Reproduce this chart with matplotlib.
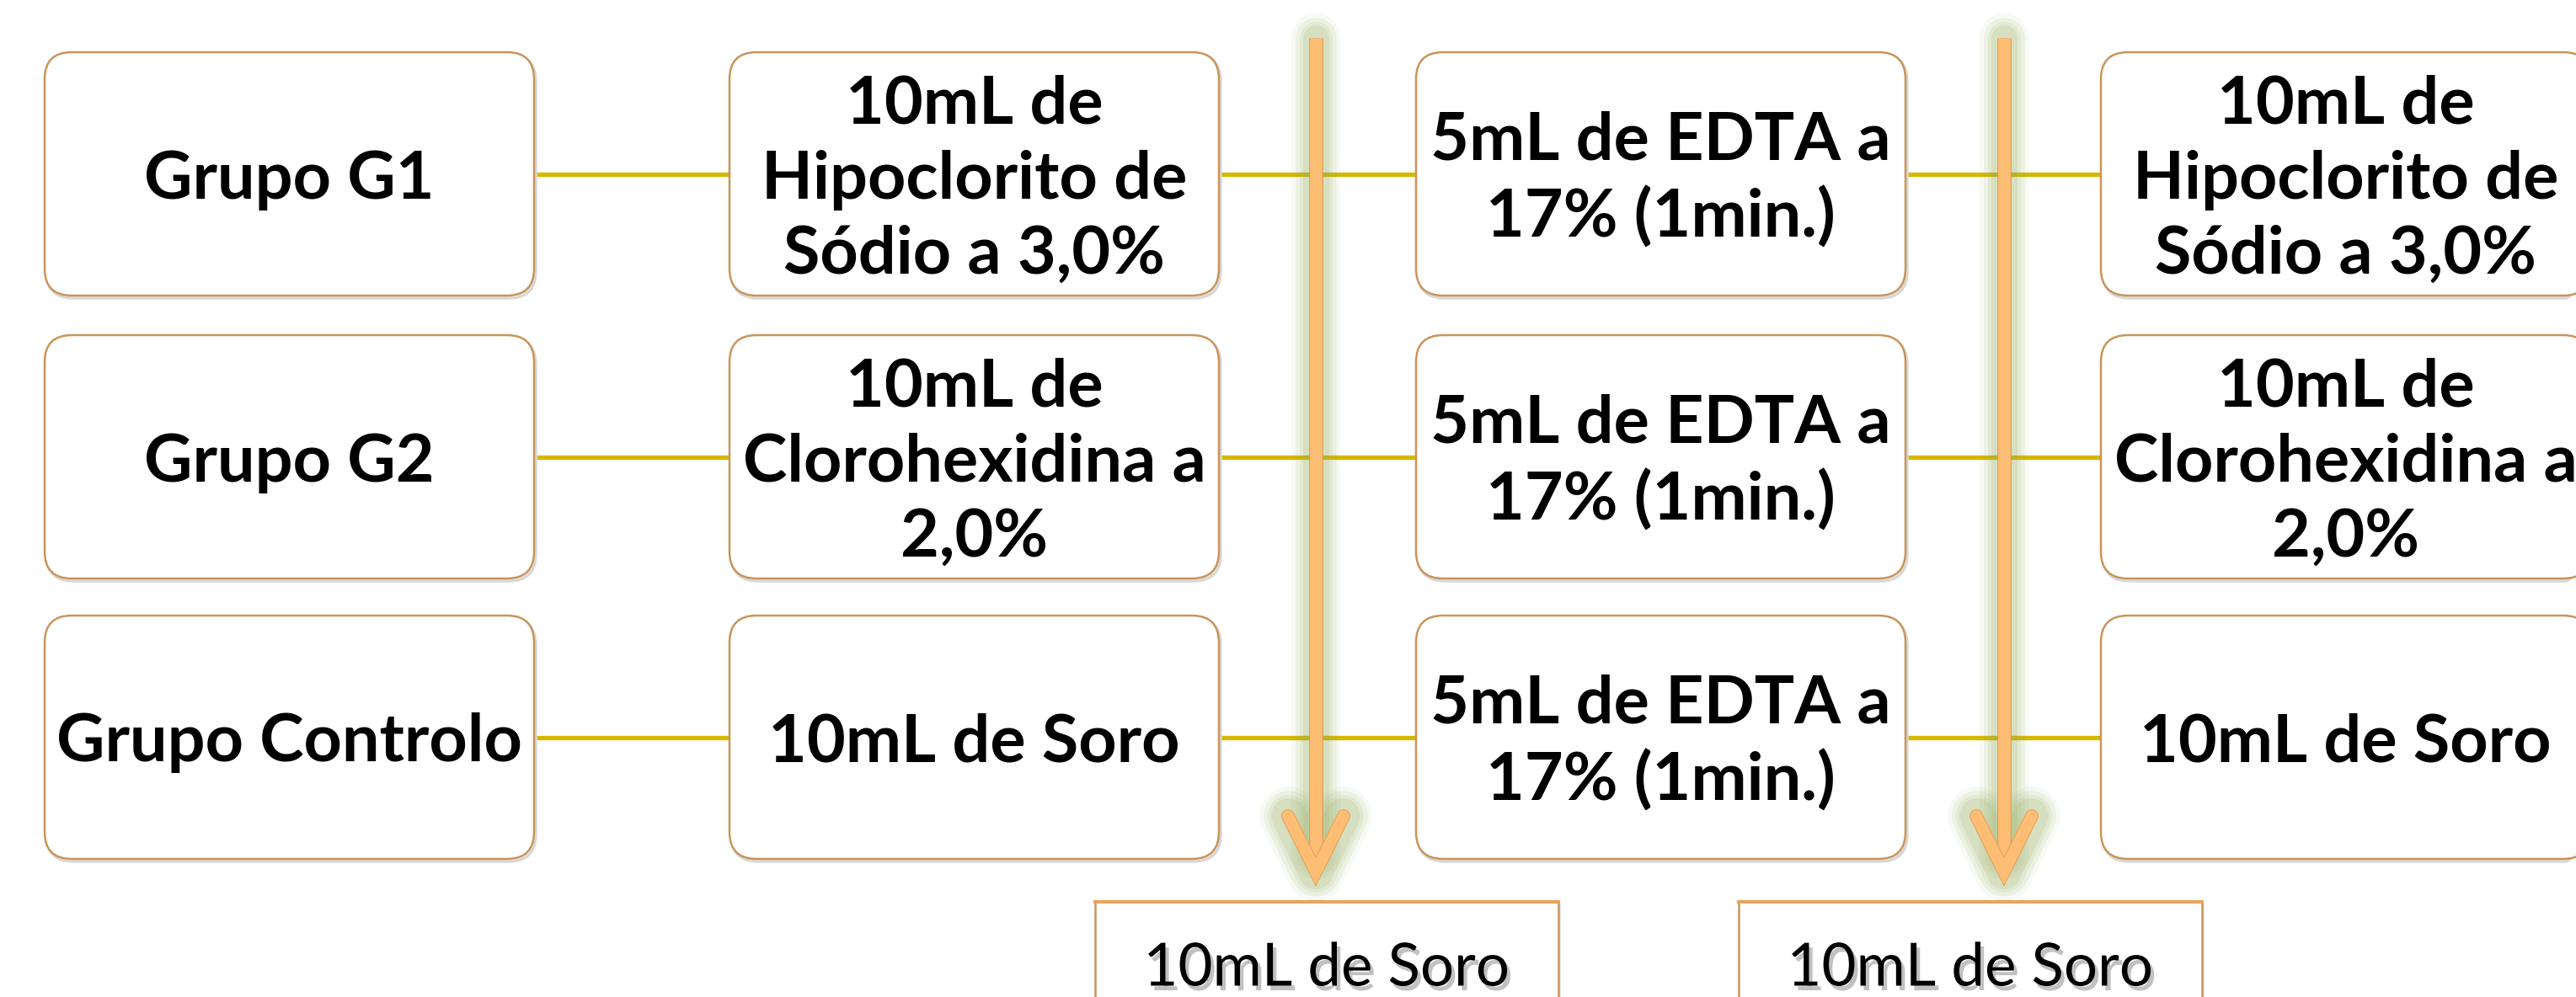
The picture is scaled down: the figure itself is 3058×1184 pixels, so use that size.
import matplotlib
matplotlib.use("Agg")
import matplotlib.pyplot as plt
import matplotlib.patheffects as pe
from matplotlib.patches import FancyBboxPatch, Rectangle

# ------------------------------------------
# content of the flow chart
# ------------------------------------------
groups = ["Grupo G1", "Grupo G2", "Grupo Controlo"]
irrigants = ["10mL de\nHipoclorito de\nSódio a 3,0%",
             "10mL de\nClorohexidina a\n2,0%",
             "10mL de Soro"]
edta = ["5mL de EDTA a\n17% (1min.)"] * 3
finals = irrigants
rinses = ["10mL de Soro", "10mL de Soro"]

columns = [groups, irrigants, edta, finals]

# layout (pixels)
W, H = 3058, 1184
col_left = [53, 866, 1681, 2494]
box_w = 581
row_top = [62, 398, 731]
box_h = 289
arrow_x = [1562, 2379]
rinse_left = [1300, 2064]
rinse_w = 550

edge_col = "#C8955A"
line_col = "#D6B800"
arrow_col = "#FDBD72"
glow_col = "#95AC5C"

fig = plt.figure(figsize=(W / 100, H / 100), dpi=100)
ax = fig.add_axes([0, 0, 1, 1])
ax.set_xlim(0, W)
ax.set_ylim(H, 0)
ax.axis("off")

font = ["Lato", "DejaVu Sans"]

# connectors
for r in range(3):
    yc = row_top[r] + box_h / 2
    for c in range(3):
        ax.plot([col_left[c] + box_w, col_left[c + 1]], [yc, yc],
                color=line_col, lw=3.8, solid_capstyle="butt", zorder=1)

# boxes
for c, texts in enumerate(columns):
    for r, txt in enumerate(texts):
        x0, y0 = col_left[c], row_top[r]
        shadow = FancyBboxPatch((x0 + 2, y0 + 3), box_w, box_h,
                                boxstyle="round,pad=0,rounding_size=32",
                                fc="none", ec="#d8d8d8", lw=2.5, zorder=2)
        ax.add_patch(shadow)
        box = FancyBboxPatch((x0, y0), box_w, box_h,
                             boxstyle="round,pad=0,rounding_size=32",
                             fc="white", ec=edge_col, lw=1.8, zorder=3)
        ax.add_patch(box)
        ax.text(x0 + box_w / 2, y0 + box_h / 2 + 7, txt, ha="center", va="center",
                fontsize=57, fontweight="bold", family=font, linespacing=1.3,
                color="black", zorder=4, clip_on=True)

# vertical arrows with a soft green glow
for x in arrow_x:
    top, tip, head = 45, 1035, 66
    for lw, a in [(42, 0.07), (35, 0.10), (28, 0.12), (22, 0.15)]:
        ax.plot([x, x], [top, tip - 20], color=glow_col, lw=lw, alpha=a,
                solid_capstyle="round", zorder=5)
        ax.plot([x - 32, x, x + 32], [tip - head, tip, tip - head], color=glow_col,
                lw=lw + 8, alpha=a, solid_capstyle="round", solid_joinstyle="round", zorder=5)
    ax.plot([x, x], [top, tip - 8], color=arrow_col, lw=10.5, solid_capstyle="butt",
            path_effects=[pe.Stroke(linewidth=12, foreground="#D89A55"), pe.Normal()],
            zorder=6)
    ax.plot([x - 33, x, x + 33], [tip - head, tip, tip - head], color=arrow_col, lw=10,
            solid_capstyle="round", solid_joinstyle="miter",
            path_effects=[pe.Stroke(linewidth=11.5, foreground="#E0A460"), pe.Normal()],
            zorder=6)

# final rinse boxes
for x0, txt in zip(rinse_left, rinses):
    ax.add_patch(Rectangle((x0 + 3, 1074), rinse_w, 200, fc="#e6e6e6", ec="none", zorder=2))
    ax.add_patch(Rectangle((x0, 1070), rinse_w, 200, fc="white", ec=edge_col, lw=1.8, zorder=3))
    ax.plot([x0, x0 + rinse_w], [1071, 1071], color="#E8A460", lw=3, zorder=4)
    ax.text(x0 + rinse_w / 2, 1150, txt, ha="center", va="center", fontsize=51,
            family=font, color="black", zorder=5,
            path_effects=[pe.withSimplePatchShadow(offset=(3, -4), shadow_rgbFace="#999999", alpha=0.6)])

fig.savefig("out.png", dpi=100)
